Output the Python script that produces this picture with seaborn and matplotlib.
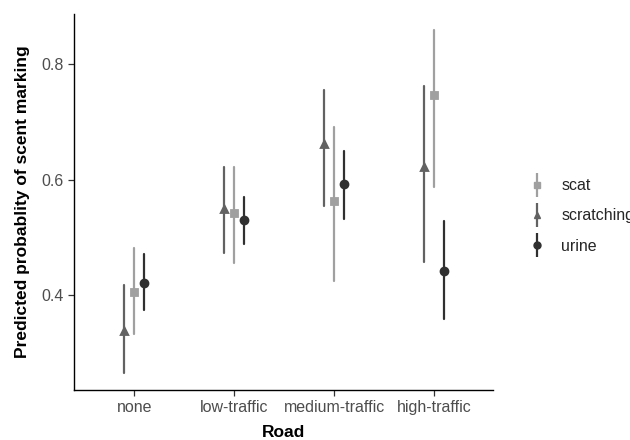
import pandas as pd
import matplotlib
matplotlib.use("Agg")
import matplotlib.pyplot as plt
import seaborn as sns
from matplotlib.lines import Line2D
from matplotlib.legend_handler import HandlerTuple

sns.set_theme(style="ticks")
plt.rcParams['font.family'] = ['Liberation Sans', 'DejaVu Sans']

# Predicted probabilities with lower / upper interval
roads = ['none', 'low-traffic', 'medium-traffic', 'high-traffic']
behaviours = ['scratching', 'scat', 'urine']

scratching_fit = [0.338, 0.550, 0.662, 0.623]
scratching_lo = [0.266, 0.474, 0.554, 0.457]
scratching_hi = [0.418, 0.622, 0.755, 0.763]

scat_fit = [0.405, 0.542, 0.563, 0.747]
scat_lo = [0.333, 0.456, 0.424, 0.587]
scat_hi = [0.482, 0.622, 0.692, 0.859]

urine_fit = [0.422, 0.530, 0.593, 0.442]
urine_lo = [0.374, 0.489, 0.532, 0.359]
urine_hi = [0.472, 0.570, 0.650, 0.528]

colours = {'scat': '#a0a0a0', 'scratching': '#626262', 'urine': '#303030'}
markers = {'scat': 's', 'scratching': '^', 'urine': 'o'}

series = {
    'scratching': (scratching_lo, scratching_fit, scratching_hi),
    'scat': (scat_lo, scat_fit, scat_hi),
    'urine': (urine_lo, urine_fit, urine_hi),
}

# long table: lo / fit / hi per group -> median = fit, 100% interval = lo..hi
rows = []
for b, (lo, fit, hi) in series.items():
    for i, road in enumerate(roads):
        for v in (lo[i], fit[i], hi[i]):
            rows.append({'Road': road, 'Behaviour': b, 'p': v})
df = pd.DataFrame(rows)

fig = plt.figure(figsize=(6.3, 4.4), dpi=100)
ax = fig.add_axes([0.118, 0.114, 0.665, 0.854])

sns.pointplot(
    data=df, x='Road', y='p', hue='Behaviour',
    order=roads, hue_order=behaviours,
    estimator='median', errorbar=('pi', 100),
    dodge=0.2, linestyle='none',
    markers=[markers[b] for b in behaviours],
    palette=colours, markersize=5, err_kws={'linewidth': 1.6},
    ax=ax,
)

ax.set_xlim(-0.6, 3.59)
ax.set_ylim(0.2364, 0.887)
ax.set_yticks([0.4, 0.6, 0.8])
ax.set_yticklabels(['0.4', '0.6', '0.8'])
sns.despine(ax=ax)
for s in ['left', 'bottom']:
    ax.spines[s].set_color('black')
    ax.spines[s].set_linewidth(1.0)
ax.tick_params(axis='both', colors='#333333', length=4, width=0.9,
               labelsize=11.5, labelcolor='#4d4d4d')

ax.set_xlabel('Road', fontsize=12.5, fontweight='bold', color='black', labelpad=7)
ax.set_ylabel('Predicted probablity of scent marking', fontsize=12.5,
              fontweight='bold', color='black', labelpad=8)

# legend: marker on a vertical bar, order scat / scratching / urine
handles = []
labels = ['scat', 'scratching', 'urine']
for b in labels:
    bar = Line2D([], [], marker='|', markersize=17, markeredgewidth=1.6,
                 color=colours[b], linestyle='none')
    pt = Line2D([], [], marker=markers[b], markersize=5,
                color=colours[b], linestyle='none')
    handles.append((bar, pt))
ax.legend(handles, labels, handler_map={tuple: HandlerTuple(ndivide=1)},
          loc='center left', bbox_to_anchor=(1.067, 0.463), frameon=False,
          fontsize=11.5, handlelength=1.0, labelspacing=0.95, handletextpad=1.0,
          borderpad=0)

plt.savefig('out.png', dpi=100)
